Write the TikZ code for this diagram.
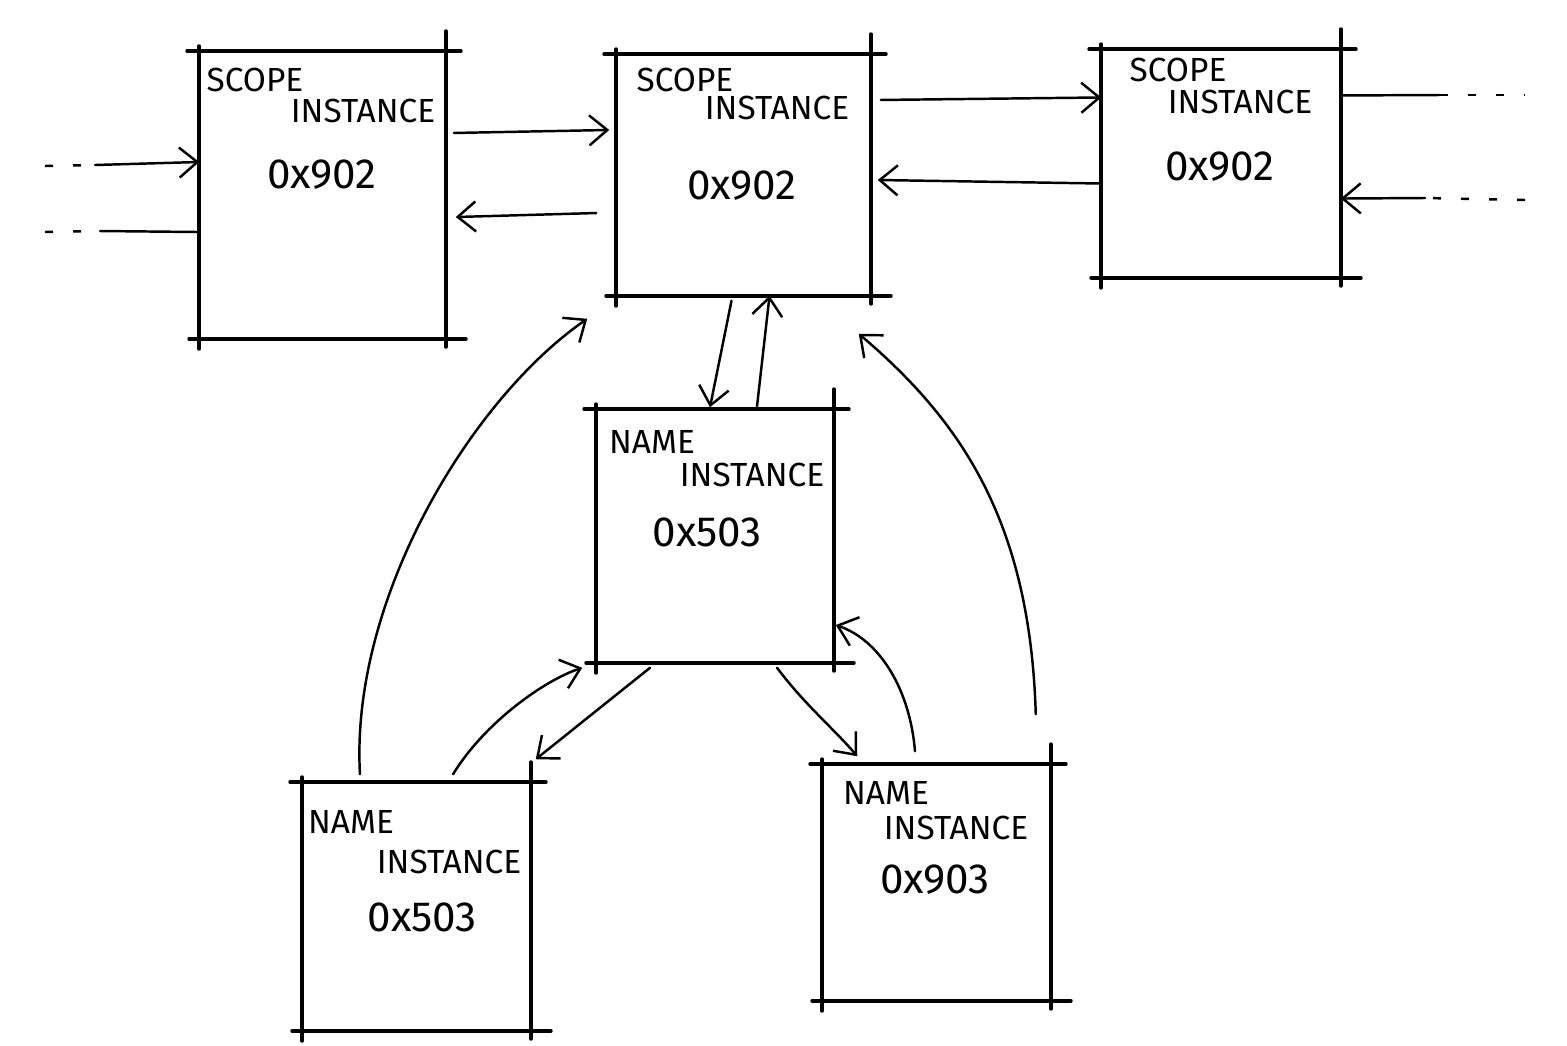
\documentclass[tikz,border=0pt]{standalone}
\usepackage{fontspec}
\setmainfont{Fira Sans}
\usetikzlibrary{arrows.meta,positioning}
\tikzset{
  ar/.style={-{Straight Barb[length=1.8mm,width=3mm]},line width=0.7pt,line cap=round},
  ln/.style={line width=0.7pt,line cap=round},
  dsh/.style={line width=0.7pt,dash pattern=on 0.08cm off 0.2cm},
  box/.style={draw=none,inner sep=0pt},
  sk/.style={line width=1.1pt,line cap=round},
  lbl/.style={font=\fontsize{9.5}{11}\selectfont,inner sep=0pt},
  hex/.style={font=\fontsize{12}{14}\selectfont,inner sep=0pt}
}
\newcommand{\skbox}[1]{%
  \draw[sk] ([xshift=-0.12cm]#1.north west) -- ([xshift=0.15cm]#1.north east);
  \draw[sk] ([yshift=0.2cm]#1.north east) -- ([yshift=-0.08cm]#1.south east);
  \draw[sk] ([xshift=-0.1cm]#1.south west) -- ([xshift=0.2cm]#1.south east);
  \draw[sk] ([yshift=0.05cm]#1.north west) -- ([yshift=-0.1cm]#1.south west);}

\begin{document}
\begin{tikzpicture}[x=0.01cm,y=-0.01cm]
\useasboundingbox (0,0) rectangle (1567,1045);
\node[box,minimum width=2.45cm,minimum height=2.86cm] (s1) at (322.5,195) {};
\node[box,minimum width=2.53cm,minimum height=2.40cm] (s2) at (743.5,175) {};
\node[box,minimum width=2.38cm,minimum height=2.27cm] (s3) at (1221,163.5) {};
\node[box,minimum width=2.36cm,minimum height=2.52cm] (n1) at (715,536) {};
\node[box,minimum width=2.27cm,minimum height=2.47cm] (n2) at (416.5,906.5) {};
\node[box,minimum width=2.27cm,minimum height=2.35cm] (n3) at (936.5,882.5) {};
\skbox{s1}\skbox{s2}\skbox{s3}\skbox{n1}\skbox{n2}\skbox{n3}

\node[lbl] (s1a) at (255,80) {SCOPE};
\node[lbl] (s1b) at (363,111) {INSTANCE};
\node[hex] (s1c) at (322,175) {0x902};
\node[lbl] (s2a) at (685,80) {SCOPE};
\node[lbl] (s2b) at (777,108) {INSTANCE};
\node[hex] (s2c) at (742,186) {0x902};
\node[lbl] (s3a) at (1178,70) {SCOPE};
\node[lbl] (s3b) at (1240,102) {INSTANCE};
\node[hex] (s3c) at (1220,167) {0x902};
\node[lbl] (n1a) at (652,442) {NAME};
\node[lbl] (n1b) at (752,475) {INSTANCE};
\node[hex] (n1c) at (707,532) {0x503};
\node[lbl] (n2a) at (351,822) {NAME};
\node[lbl] (n2b) at (449,862) {INSTANCE};
\node[hex] (n2c) at (422,917) {0x503};
\node[lbl] (n3a) at (886,793) {NAME};
\node[lbl] (n3b) at (956,828) {INSTANCE};
\node[hex] (n3c) at (935,880) {0x903};

\coordinate (inA) at (45,166);
\coordinate (inAm) at (95,165);
\coordinate (inB) at (45,232);
\coordinate (inBm) at (100,231);
\coordinate (outA) at (1525,95);
\coordinate (outAm) at (1440,95);
\coordinate (outB) at (1525,200);
\coordinate (outBm) at (1425,198);
\draw[dsh] (inA) -- (inAm);
\draw[ar] (inAm) -- ([yshift=0.33cm]s1.west);
\draw[dsh] (inB) -- (inBm);
\draw[ln] (inBm) -- ([yshift=-0.37cm]s1.west);
\draw[ln] ([yshift=0.68cm]s3.east) -- (outAm);
\draw[dsh] (outAm) -- (outA);
\draw[dsh] (outB) -- (outBm);
\draw[ar] (outBm) -- ([yshift=-0.35cm]s3.east);

\draw[ar] ([xshift=0.08cm,yshift=0.62cm]s1.east) -- ([xshift=-0.07cm,yshift=0.45cm]s2.west);
\draw[ar] ([xshift=-0.2cm,yshift=-0.38cm]s2.west) -- ([xshift=0.1cm,yshift=-0.22cm]s1.east);
\draw[ar] ([xshift=0.1cm,yshift=0.75cm]s2.east) -- ([yshift=0.66cm]s3.west);
\draw[ar] ([yshift=-0.2cm]s3.west) -- ([xshift=0.07cm,yshift=-0.05cm]s2.east);

\draw[ar] ([xshift=-0.12cm,yshift=-0.05cm]s2.south) -- ([xshift=-0.05cm,yshift=0.02cm]n1.north);
\draw[ar] ([xshift=0.42cm,yshift=0.03cm]n1.north) -- ([xshift=0.26cm]s2.south);

\draw[ar] ([xshift=-0.565cm,yshift=0.08cm]n2.north) .. controls (350,600) and (470,400) .. ([xshift=-0.29cm,yshift=-0.23cm]s2.south west);
\draw[ar] ([xshift=-0.15cm,yshift=0.5cm]n3.north east) .. controls (1030,520) and (960,420) .. ([xshift=-0.12cm,yshift=-0.38cm]s2.south east);

\draw[ar] ([xshift=0.365cm,yshift=0.08cm]n2.north) .. controls (485,722) and (545,680) .. ([xshift=-0.14cm,yshift=-0.05cm]n1.south west);
\draw[ar] ([xshift=-0.65cm,yshift=-0.05cm]n1.south) -- ([xshift=0.05cm,yshift=0.23cm]n2.north east);
\draw[ar] ([xshift=0.62cm,yshift=-0.05cm]n1.south) .. controls (805,705) and (835,730) .. ([xshift=0.35cm,yshift=0.08cm]n3.north west);
\draw[ar] ([xshift=-0.215cm,yshift=0.13cm]n3.north) .. controls (910,690) and (880,640) .. ([xshift=0.02cm,yshift=-0.89cm]n1.east);
\end{tikzpicture}
\end{document}
